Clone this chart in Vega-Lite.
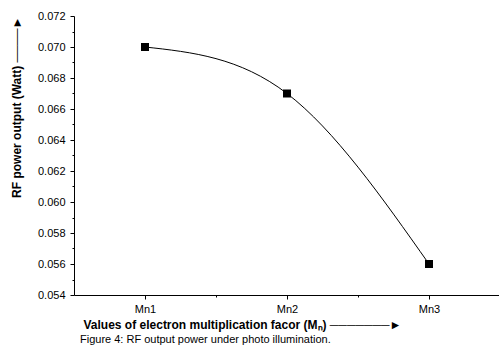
{
  "$schema": "https://vega.github.io/schema/vega-lite/v6.json",
  "autosize": "none",
  "width": 426,
  "height": 279,
  "padding": {"left": 74, "top": 16, "right": 0, "bottom": 58},
  "background": "white",
  "config": {
    "view": {"stroke": null},
    "font": "Liberation Sans",
    "axis": {"grid": false, "domainColor": "black", "tickColor": "black", "labelColor": "black", "titleColor": "black", "labelFont": "Liberation Sans", "titleFont": "Liberation Sans", "labelFontSize": 11, "titleFontSize": 12, "titleFontWeight": "bold"}
  },
  "title": {
    "text": "Figure 4: RF output power under photo illumination.",
    "orient": "bottom",
    "anchor": "start",
    "frame": "group",
    "dx": 6,
    "offset": 4,
    "font": "Liberation Sans",
    "fontSize": 11,
    "fontWeight": "normal",
    "color": "black"
  },
  "data": {
    "values": [
      {"mn": 1, "power": 0.070},
      {"mn": 2, "power": 0.067},
      {"mn": 3, "power": 0.056}
    ]
  },
  "encoding": {
    "x": {
      "field": "mn",
      "type": "quantitative",
      "scale": {"domain": [0.5, 3.5], "nice": false, "zero": false},
      "axis": {
        "values": [1, 1.5, 2, 2.5, 3],
        "labelExpr": "datum.value % 1 == 0 ? 'Mn' + datum.value : ''",
        "tickSize": {"condition": {"test": "datum.value % 1 != 0", "value": 2}, "value": 4},
        "labelPadding": 4,
        "title": "Values of electron multiplication facor (Mₙ)  ───────►",
        "titleAnchor": "start",
        "titleAlign": "left",
        "titleX": 9,
        "titleY": 33,
        "titleBaseline": "alphabetic"
      }
    },
    "y": {
      "field": "power",
      "type": "quantitative",
      "scale": {"domain": [0.054, 0.072], "nice": false, "zero": false},
      "axis": {
        "values": [0.054, 0.055, 0.056, 0.057, 0.058, 0.059, 0.060, 0.061, 0.062, 0.063, 0.064, 0.065, 0.066, 0.067, 0.068, 0.069, 0.070, 0.071, 0.072],
        "labelExpr": "round(datum.value * 1000) % 2 == 0 ? format(datum.value, '.3f') : ''",
        "tickSize": {"condition": {"test": "round(datum.value * 1000) % 2 == 1", "value": 2}, "value": 4},
        "labelPadding": 5,
        "title": "RF power output (Watt)       ────►",
        "titleAnchor": "end",
        "titleX": -58,
        "titleBaseline": "middle"
      }
    }
  },
  "layer": [
    {"mark": {"type": "line", "interpolate": "natural", "color": "black", "strokeWidth": 1}},
    {"mark": {"type": "point", "shape": "square", "filled": true, "color": "black", "opacity": 1, "size": 64}}
  ]
}
